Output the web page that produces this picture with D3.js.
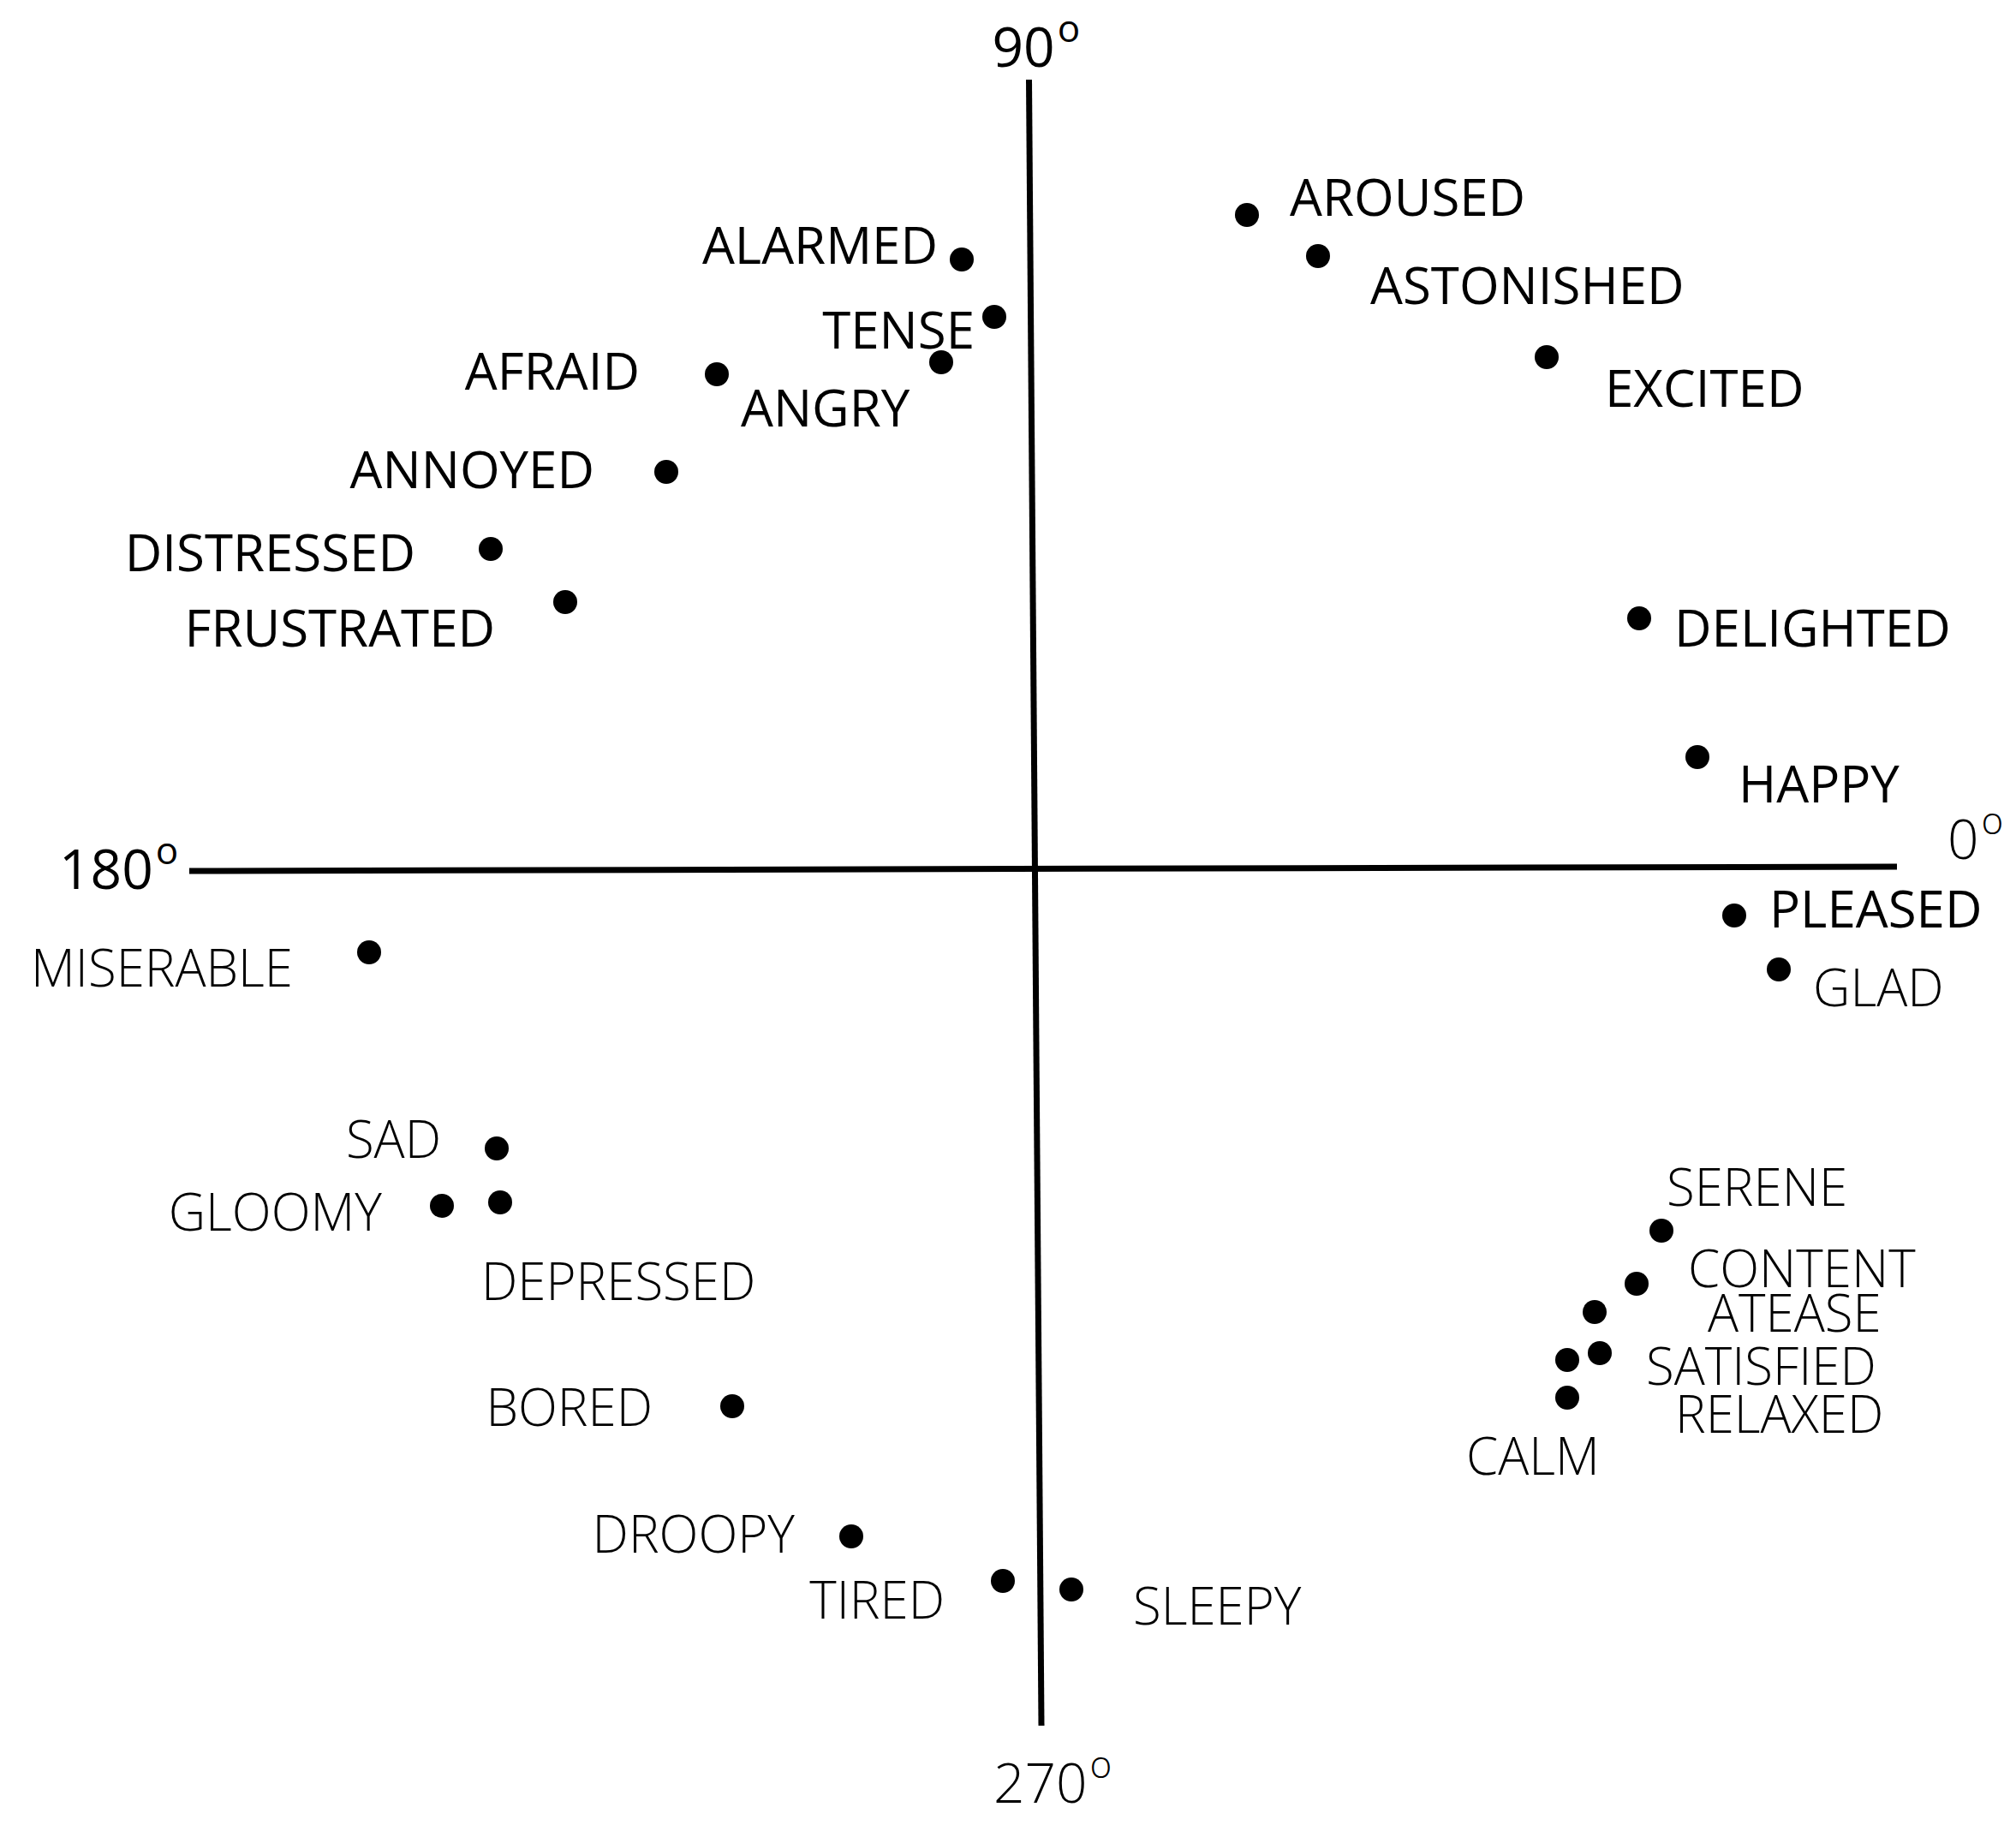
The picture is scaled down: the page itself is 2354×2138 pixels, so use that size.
<!doctype html>
<html>
  <head>
    <meta charset="UTF-8"/>
    <title>Affect circumplex</title>
    <script src="https://d3js.org/d3.v7.min.js"></script>
    <style>
      body {
          margin: 0;
          padding: 0;
          background: #fff;
      }
      svg text {
          font-family: "Open Sans", "Noto Sans", sans-serif;
          fill: #000;
      }
    </style>
  </head>
  <body>
    <script>
      // words placed on the valence (x) / arousal (y) plane
      const words = [
        "AROUSED", "ASTONISHED", "EXCITED", "DELIGHTED", "HAPPY", "PLEASED", "GLAD",
        "SERENE", "CONTENT", "ATEASE", "SATISFIED", "RELAXED", "CALM",
        "SLEEPY", "TIRED", "DROOPY", "BORED", "DEPRESSED", "GLOOMY", "SAD", "MISERABLE",
        "FRUSTRATED", "DISTRESSED", "ANNOYED", "AFRAID", "ANGRY", "TENSE", "ALARMED"
      ];
      const valence = [
        2.47, 3.30, 5.97, 7.05, 7.73, 8.16, 8.68,
        7.31, 7.02, 6.53, 6.59, 6.21, 6.21,
        0.42, -0.38, -2.15, -3.54, -6.25, -6.93, -6.29, -7.78,
        -5.49, -6.36, -4.31, -3.72, -1.10, -0.48, -0.86
      ];
      const arousal = [
        7.63, 7.15, 5.97, 2.92, 1.30, -0.55, -1.18,
        -4.23, -4.85, -5.18, -5.66, -5.74, -6.18,
        -8.42, -8.32, -7.80, -6.28, -3.90, -3.94, -3.27, -0.98,
        3.11, 3.73, 4.63, 5.77, 5.91, 6.44, 7.11
      ];
      // axis ends, as drawn (slightly off square)
      const axisEnds = [
        { label: "0", x: 10.06, y: 0.02 },
        { label: "90", x: -0.075, y: 9.21 },
        { label: "180", x: -9.88, y: -0.03 },
        { label: "270", x: 0.07, y: -10.01 }
      ];

      // label placement relative to the dot: [dx, dy, anchor]
      const labelPlace = {
        AROUSED: [50, 1, "start"], ASTONISHED: [61, 56, "start"], EXCITED: [68, 58, "start"],
        DELIGHTED: [41, 33, "start"], HAPPY: [48, 53, "start"], PLEASED: [41, 14, "start"],
        GLAD: [40, 43, "start"], SERENE: [6, -29, "start"], CONTENT: [60, 4, "start"],
        ATEASE: [132, 23, "start"], SATISFIED: [54, 37, "start"], RELAXED: [126, 85, "start"],
        CALM: [-118, 90, "start"], SLEEPY: [72, 41, "start"], TIRED: [-68, 44, "end"],
        DROOPY: [-66, 19, "end"], BORED: [-93, 23, "end"], DEPRESSED: [-22, 114, "start"],
        GLOOMY: [-70, 29, "end"], SAD: [-65, 11, "end"], MISERABLE: [-89, 40, "end"],
        FRUSTRATED: [-82, 52, "end"], DISTRESSED: [-88, 26, "end"], ANNOYED: [-84, 19, "end"],
        AFRAID: [-90, 18, "end"], ANGRY: [-234, 75, "start"], TENSE: [-23, 37, "end"],
        ALARMED: [-28, 5, "end"]
      };
      const axisLabelPlace = { "0": [59, -9], "90": [-43, -15], "180": [-152, 21], "270": [-56, 90] };
      const darkWords = ["AROUSED", "ASTONISHED", "EXCITED", "DELIGHTED", "HAPPY", "PLEASED",
        "FRUSTRATED", "DISTRESSED", "ANNOYED", "AFRAID", "ANGRY", "TENSE", "ALARMED"];

      const W = 2354, H = 2138;
      const x = d3.scaleLinear().domain([-10, 10]).range([209, 2209]);
      const y = d3.scaleLinear().domain([-10, 10]).range([2014, 14]);

      const svg = d3.select("body").append("svg")
        .attr("width", W).attr("height", H);

      const ends = Object.fromEntries(axisEnds.map(d => [d.label, d]));
      const axes = [["180", "0"], ["90", "270"]];
      svg.selectAll("line.axis").data(axes).join("line")
        .attr("class", "axis")
        .attr("x1", d => x(ends[d[0]].x)).attr("y1", d => y(ends[d[0]].y))
        .attr("x2", d => x(ends[d[1]].x)).attr("y2", d => y(ends[d[1]].y))
        .attr("stroke", "#000").attr("stroke-width", 7);

      const deg = svg.selectAll("text.deg").data(axisEnds).join("text")
        .attr("class", "deg")
        .attr("x", d => x(d.x) + axisLabelPlace[d.label][0])
        .attr("y", d => y(d.y) + axisLabelPlace[d.label][1])
        .attr("font-size", 64)
        .attr("font-weight", d => d.label === "90" || d.label === "180" ? 400 : 300);
      deg.append("tspan").text(d => d.label);
      deg.append("tspan").attr("font-size", 44).attr("dy", -29).attr("dx", 3).text("o");

      const pts = words.map((w, i) => ({ word: w, v: valence[i], a: arousal[i] }));

      svg.selectAll("circle").data(pts).join("circle")
        .attr("cx", d => x(d.v)).attr("cy", d => y(d.a))
        .attr("r", 14).attr("fill", "#000");

      svg.selectAll("text.word").data(pts).join("text")
        .attr("class", "word")
        .attr("x", d => x(d.v) + labelPlace[d.word][0])
        .attr("y", d => y(d.a) + labelPlace[d.word][1])
        .attr("text-anchor", d => labelPlace[d.word][2])
        .attr("font-size", 60)
        .attr("font-weight", d => darkWords.includes(d.word) ? 400 : 300)
        .text(d => d.word);
    </script>
  </body>
</html>
